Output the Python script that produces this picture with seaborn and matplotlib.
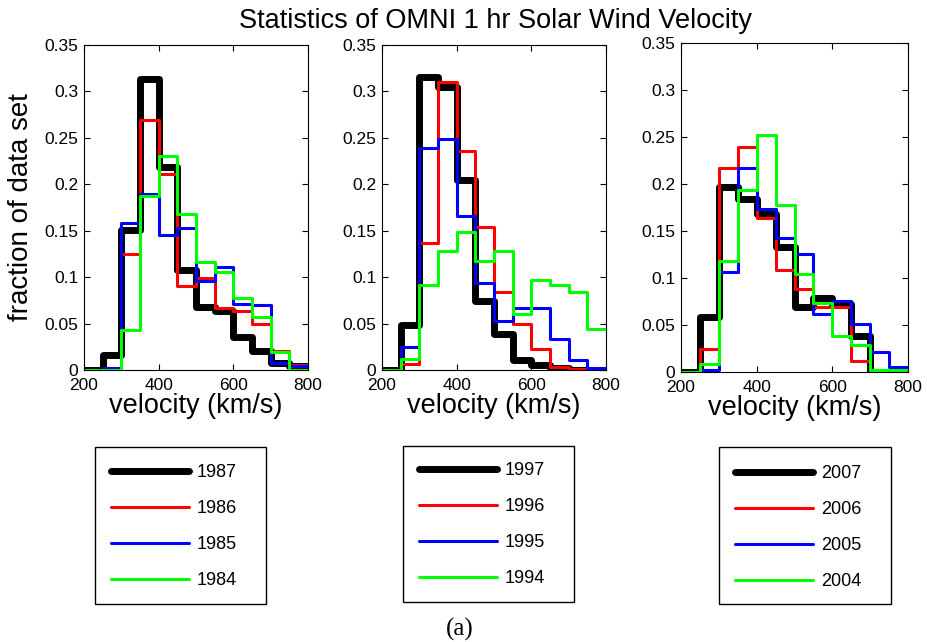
import numpy as np
import pandas as pd
import matplotlib
matplotlib.use("Agg")
import matplotlib.pyplot as plt
from matplotlib.patches import Rectangle
import seaborn as sns

# velocity bins, 50 km/s wide, 200-800 km/s
centers = np.arange(225, 800, 50)

# fraction of data set per bin
years_1 = ["1987", "1986", "1985", "1984"]
frac_1987 = [0, 0.016, 0.151, 0.313, 0.219, 0.108, 0.068, 0.063, 0.036, 0.020, 0.008, 0.004]
frac_1986 = [0, 0, 0.125, 0.269, 0.211, 0.090, 0.099, 0.067, 0.063, 0.050, 0.020, 0.005]
frac_1985 = [0, 0.002, 0.158, 0.190, 0.145, 0.153, 0.096, 0.111, 0.071, 0.070, 0.007, 0.004]
frac_1984 = [0, 0, 0.043, 0.187, 0.230, 0.168, 0.116, 0.105, 0.077, 0.057, 0.019, 0]

years_2 = ["1997", "1996", "1995", "1994"]
frac_1997 = [0, 0.048, 0.316, 0.305, 0.205, 0.074, 0.039, 0.011, 0.005, 0.002, 0, 0]
frac_1996 = [0, 0.006, 0.137, 0.310, 0.236, 0.154, 0.084, 0.050, 0.023, 0.003, 0.001, 0]
frac_1995 = [0, 0.025, 0.239, 0.249, 0.166, 0.094, 0.053, 0.067, 0.067, 0.033, 0.011, 0.002]
frac_1994 = [0, 0.012, 0.092, 0.128, 0.149, 0.117, 0.128, 0.060, 0.097, 0.092, 0.084, 0.044]

years_3 = ["2007", "2006", "2005", "2004"]
frac_2007 = [0, 0.058, 0.197, 0.184, 0.168, 0.133, 0.069, 0.079, 0.072, 0.038, 0, 0]
frac_2006 = [0, 0.024, 0.217, 0.239, 0.164, 0.109, 0.088, 0.069, 0.069, 0.012, 0.002, 0]
frac_2005 = [0, 0.002, 0.106, 0.217, 0.173, 0.143, 0.126, 0.062, 0.076, 0.051, 0.021, 0.005]
frac_2004 = [0, 0.008, 0.118, 0.194, 0.252, 0.178, 0.104, 0.073, 0.038, 0.029, 0.002, 0.002]

panels = [
    (years_1, [frac_1987, frac_1986, frac_1985, frac_1984]),
    (years_2, [frac_1997, frac_1996, frac_1995, frac_1994]),
    (years_3, [frac_2007, frac_2006, frac_2005, frac_2004]),
]

colors = ["#000000", "#ff0000", "#0000ff", "#00ff00"]
widths = [5.0, 2.2, 2.2, 2.2]

yticks = [0, 0.05, 0.1, 0.15, 0.2, 0.25, 0.3, 0.35]
ytick_labels = ["0", "0.05", "0.1", "0.15", "0.2", "0.25", "0.3", "0.35"]
xticks = [200, 400, 600, 800]

sns.set_style("ticks")
plt.rcParams['font.family'] = ['Liberation Sans', 'DejaVu Sans']
for key in ["text.color", "axes.labelcolor", "xtick.color", "ytick.color"]:
    plt.rcParams[key] = "black"

W, H = 928, 642
fig = plt.figure(figsize=(W / 100, H / 100), dpi=100)


def px(x0, y0, x1, y1):
    # pixel box -> figure fraction [left, bottom, width, height]
    return [x0 / W, 1 - y1 / H, (x1 - x0) / W, (y1 - y0) / H]


ax_boxes = [(84, 45, 308, 370), (382, 45, 606, 370), (681, 43, 908, 372)]
leg_boxes = [(95, 447, 266, 604), (403, 446, 574, 602), (719, 447, 891, 604)]
leg_anchor = [(111, 464), (419, 462), (735, 465)]

for i, (years, series) in enumerate(panels):
    ax = fig.add_axes(px(*ax_boxes[i]))
    for yr, vals, c, lw in zip(years, series, colors, widths):
        df = pd.DataFrame({"v": centers, "f": vals})
        sns.histplot(data=df, x="v", weights="f", binwidth=50, binrange=(200, 800),
                     element="step", fill=False, color=c, linewidth=lw,
                     label=yr, ax=ax)
    ax.set_xlim(200, 800)
    ax.set_ylim(0, 0.35)
    ax.set_xticks(xticks)
    ax.set_yticks(yticks)
    ax.set_yticklabels(ytick_labels)
    ax.tick_params(direction="in", length=4, width=0.8, top=True, right=True,
                   labelsize=12.5, colors="black")
    ax.tick_params(axis="x", pad=5.5)
    ax.tick_params(axis="y", pad=4)
    for sp in ax.spines.values():
        sp.set_visible(True)
        sp.set_linewidth(0.8)
        sp.set_color("black")
    ax.set_ylabel("")
    ax.set_xlabel("velocity (km/s)", fontsize=19.5, labelpad=0)

    handles = ax.get_lines()[:4]
    x0, y0 = leg_anchor[i]
    ax.legend(handles=handles, labels=years, loc="upper left",
              bbox_to_anchor=(x0 / W, 1 - y0 / H), bbox_transform=fig.transFigure,
              frameon=False, fontsize=13, borderpad=0, borderaxespad=0,
              handlelength=4.3, handletextpad=0.45, labelspacing=1.06)
    bx0, by0, bx1, by1 = leg_boxes[i]
    fig.patches.append(Rectangle((bx0 / W, 1 - by1 / H), (bx1 - bx0) / W,
                                 (by1 - by0) / H, transform=fig.transFigure,
                                 fill=False, edgecolor="black", linewidth=1.0))

fig.text(21 / W, 1 - 207 / H, "fraction of data set", rotation=90,
         ha="center", va="center", fontsize=20)
fig.text(496 / W, 1 - 28.5 / H, "Statistics of OMNI 1 hr Solar Wind Velocity",
         ha="center", va="baseline", fontsize=19.5)
fig.text(460 / W, 1 - 629 / H, "(a)", ha="center", va="center", fontsize=18,
         family=["Liberation Serif", "DejaVu Serif"])

fig.savefig("out.png", dpi=100)
